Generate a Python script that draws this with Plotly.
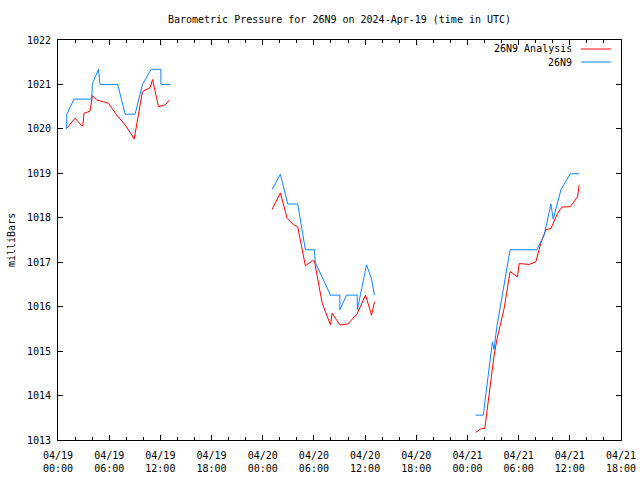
import plotly.graph_objects as go
import pandas as pd

START = pd.Timestamp("2024-04-19 00:00")

# Hours after 2024-04-19 00:00 UTC (None = data gap)
analysis_hours = [1.02, 2.0, 2.78, 2.9, 3.05, 3.76, 4.03, 4.54, 5.32, 5.91, 6.89, 7.87, 8.46, 8.93,
                  9.9, 10.8, 11.08, 11.78, 12.57, 13.07, None,
                  25.1, 26.07, 26.86, 27.63, 28.1, 29.0, 29.8, 30.06, 30.97, 31.94, 32.14, 33.04,
                  33.98, 35.07, 36.05, 36.76, 37.1, None,
                  48.97, 49.64, 50.03, 50.2, 50.73, 51.13, 51.44, 51.71, 52.1, 52.3, 53.0, 53.67,
                  53.87, 54.06, 55.23, 56.02, 56.6, 57.19, 57.78, 58.57, 59.07, 60.05, 60.9, 61.1]
analysis_mbar = [1020.01, 1020.24, 1020.07, 1020.07, 1020.35, 1020.4, 1020.75, 1020.65, 1020.61,
                 1020.58, 1020.31, 1020.09, 1019.92, 1019.77, 1020.84, 1020.93, 1021.11, 1020.5,
                 1020.54, 1020.65, None,
                 1018.19, 1018.56, 1017.99, 1017.84, 1017.8, 1016.92, 1017.03, 1017.03, 1016.08,
                 1015.59, 1015.85, 1015.59, 1015.61, 1015.84, 1016.26, 1015.81, 1016.11, None,
                 1013.17, 1013.26, 1013.26, 1013.52, 1014.35, 1014.91, 1015.25, 1015.48, 1015.74,
                 1015.96, 1016.79, 1016.71, 1016.67, 1016.97, 1016.95, 1017.01, 1017.43, 1017.73,
                 1017.76, 1018.1, 1018.24, 1018.25, 1018.47, 1018.74]

station_hours = [1.02, 1.03, 1.88, 3.95, 4.03, 4.74, 4.93, 7.0, 7.87, 9.04, 9.9, 10.92, 12.06,
                 12.07, 13.15, None,
                 25.1, 26.07, 26.93, 28.1, 29.0, 30.06, 30.15, 31.94, 33.04, 33.05, 33.82, 35.08,
                 35.09, 36.17, 36.76, 37.1, None,
                 48.97, 49.87, 50.0, 50.27, 50.93, 51.12, 51.44, 51.99, 53.0, 56.13, 57.0, 57.78,
                 58.05, 58.96, 60.05, 61.1]
station_mbar = [1020.0, 1020.33, 1020.67, 1020.67, 1021.02, 1021.34, 1021.0, 1021.0, 1020.33,
                1020.33, 1021.0, 1021.34, 1021.34, 1021.0, 1021.0, None,
                1018.64, 1018.98, 1018.31, 1018.31, 1017.28, 1017.28, 1017.0, 1016.26, 1016.26,
                1015.93, 1016.26, 1016.26, 1015.93, 1016.94, 1016.62, 1016.26, None,
                1013.56, 1013.56, 1013.79, 1014.2, 1015.21, 1015.03, 1015.55, 1016.15, 1017.28,
                1017.28, 1017.61, 1018.31, 1017.97, 1018.63, 1018.99, 1018.99]

tick_hours = [0, 6, 12, 18, 24, 30, 36, 42, 48, 54, 60, 66]
tick_labels = ["04/19<br>00:00", "04/19<br>06:00", "04/19<br>12:00", "04/19<br>18:00",
               "04/20<br>00:00", "04/20<br>06:00", "04/20<br>12:00", "04/20<br>18:00",
               "04/21<br>00:00", "04/21<br>06:00", "04/21<br>12:00", "04/21<br>18:00"]
y_ticks = [1013, 1014, 1015, 1016, 1017, 1018, 1019, 1020, 1021, 1022]

series_names = ["26N9 Analysis", "26N9"]
series_colors = ["#ff0000", "#0a84ff"]


def to_time(hours):
    return [None if h is None else START + pd.Timedelta(hours=h) for h in hours]


FONT = "DejaVu Sans Mono"
fig = go.Figure()
fig.add_trace(go.Scatter(x=to_time(analysis_hours), y=analysis_mbar, mode="lines",
                         line=dict(color=series_colors[0], width=1), name=series_names[0],
                         connectgaps=False))
fig.add_trace(go.Scatter(x=to_time(station_hours), y=station_mbar, mode="lines",
                         line=dict(color=series_colors[1], width=1), name=series_names[1],
                         connectgaps=False))

fig.update_layout(
    width=640, height=480,
    margin=dict(l=58, r=19, t=40, b=40, autoexpand=False),
    plot_bgcolor="white", paper_bgcolor="white",
    showlegend=False,
    font=dict(family=FONT, size=10, color="black"),
    title=dict(text="Barometric Pressure for 26N9 on 2024-Apr-19 (time in UTC)",
               x=(58 + 621) / 2 / 640, xanchor="center", y=1 - 19 / 480, yanchor="middle",
               font=dict(family=FONT, size=10, color="black")),
)
fig.update_xaxes(
    type="date", automargin=False,
    range=[START, START + pd.Timedelta(hours=66)],
    tickvals=to_time(tick_hours), ticktext=tick_labels,
    ticks="inside", ticklen=5, tickcolor="black", tickwidth=1,
    showline=True, linecolor="black", linewidth=1, mirror="allticks",
    showgrid=False, zeroline=False, ticklabelstandoff=6,
    minor=dict(ticks="inside", ticklen=3, dtick=2 * 3600 * 1000, tickcolor="black",
               showgrid=False),
    tickfont=dict(family=FONT, size=10),
)
fig.update_yaxes(
    range=[1013, 1022], tickvals=y_ticks, automargin=False,
    ticks="inside", ticklen=5, tickcolor="black", tickwidth=1,
    showline=True, linecolor="black", linewidth=1, mirror="allticks",
    showgrid=False, zeroline=False, ticklabelstandoff=4,
    tickfont=dict(family=FONT, size=10),
)

# Y axis title
fig.add_annotation(text="milliBars", textangle=-90, xref="paper", yref="paper",
                   x=(11 - 58) / 563, y=0.5, xanchor="center", yanchor="middle",
                   showarrow=False, font=dict(family=FONT, size=10))

# Manual gnuplot-style legend (text left of sample line)
legend_rows_px = [49, 62]
for name, color, ypx in zip(series_names, series_colors, legend_rows_px):
    yp = (440 - ypx) / 400
    fig.add_annotation(text=name, xref="paper", yref="paper",
                       x=(574 - 58) / 563, y=yp, xanchor="right", yanchor="middle",
                       showarrow=False, font=dict(family=FONT, size=10))
    fig.add_shape(type="line", xref="paper", yref="paper",
                  x0=(581 - 58) / 563, x1=(611 - 58) / 563, y0=yp, y1=yp,
                  line=dict(color=color, width=1))

fig.write_html("out.html")
